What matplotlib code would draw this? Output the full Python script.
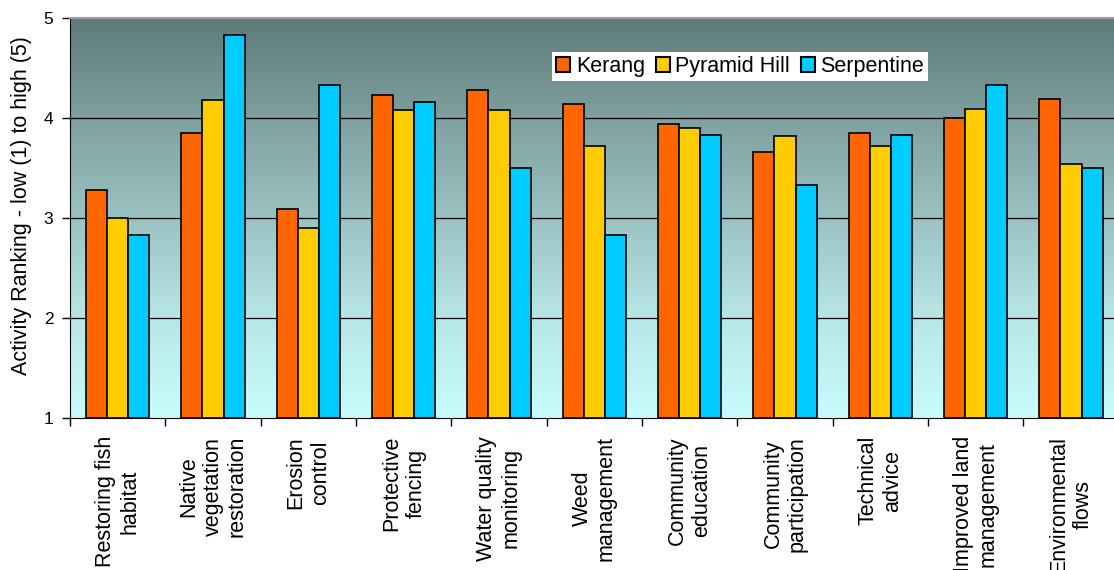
import matplotlib
matplotlib.use("Agg")
import matplotlib.pyplot as plt
import numpy as np
from matplotlib.colors import LinearSegmentedColormap

plt.rcParams['font.family'] = ['Liberation Sans', 'DejaVu Sans']

categories = ["Restoring fish\nhabitat", "Native\nvegetation\nrestoration", "Erosion\ncontrol",
              "Protective\nfencing", "Water quality\nmonitoring", "Weed\nmanagement",
              "Community\neducation", "Community\nparticipation", "Technical\nadvice",
              "Improved land\nmanagement", "Environmental\nflows"]
series = ["Kerang", "Pyramid Hill", "Serpentine"]
kerang = [3.28, 3.85, 3.09, 4.23, 4.28, 4.14, 3.94, 3.66, 3.85, 4.00, 4.19]
pyramid_hill = [3.00, 4.18, 2.90, 4.08, 4.08, 3.72, 3.90, 3.82, 3.72, 4.09, 3.54]
serpentine = [2.83, 4.83, 4.33, 4.16, 3.50, 2.83, 3.83, 3.33, 3.83, 4.33, 3.50]
colors = ["#FF6600", "#FFCC00", "#00CCFF"]

fig = plt.figure(figsize=(11.14, 5.70), dpi=100)
ax = fig.add_axes([70/1114, 152/570, 1048.7/1114, 400/570])

x = np.arange(len(categories))
width = 0.222

# gradient background
cmap = LinearSegmentedColormap.from_list(
    "bg", [(0.0, "#c8fcfc"), (0.25, "#b8e6e6"), (0.5, "#9bc2c2"), (0.75, "#7fa0a0"), (1.0, "#5f7a7a")])
grad = np.linspace(0, 1, 256).reshape(-1, 1)
ax.imshow(grad, extent=[-0.5, len(categories) - 0.5, 1, 5], origin="lower",
          aspect="auto", cmap=cmap, zorder=0)

for v in [2, 3, 4]:
    ax.axhline(v, color="black", lw=0.9, zorder=1)

for i, (name, vals) in enumerate(zip(series, [kerang, pyramid_hill, serpentine])):
    heights = np.array(vals) - 1
    ax.bar(x + (i - 1) * width, heights, width, bottom=1, color=colors[i],
           edgecolor="black", linewidth=1.2, label=name, zorder=2)

ax.set_xlim(-0.5, len(categories) - 0.5)
ax.set_ylim(1, 5)
ax.set_yticks([1, 2, 3, 4, 5])
ax.tick_params(axis="y", labelsize=12.5, length=6, width=1, pad=6, direction="out")

ax.set_xticks(x)
ax.set_xticklabels(categories, rotation=90, ha="center", va="top", multialignment="center", fontsize=15.5)
ax.tick_params(axis="x", which="major", length=0, pad=13)
ax.set_xticks(np.arange(len(categories) + 1) - 0.5, minor=True)
ax.tick_params(axis="x", which="minor", length=6, width=1, direction="out")

ax.spines["top"].set_color("#a0a0a0")
ax.spines["top"].set_linewidth(1.5)
ax.spines["right"].set_visible(False)
ax.spines["left"].set_color("black")
ax.spines["bottom"].set_color("black")

ax.set_ylabel("Activity Ranking - low (1) to high (5)", fontsize=15.5)
ax.yaxis.set_label_coords(-0.036, 0.53)

leg = ax.legend(loc="center", bbox_to_anchor=(0.639, 0.879), ncol=3, fontsize=15.5,
                frameon=True, fancybox=False, framealpha=1, edgecolor="none",
                handlelength=0.65, handleheight=0.65, handletextpad=0.25,
                columnspacing=0.5, borderpad=0.2, borderaxespad=0)
for h in leg.legend_handles:
    h.set_linewidth(1.5)

fig.savefig("out.png", dpi=100)
